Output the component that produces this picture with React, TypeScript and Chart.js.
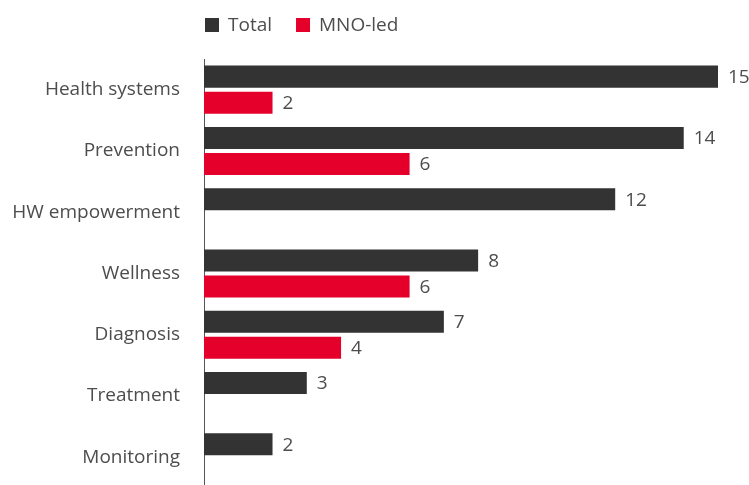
import React, { useEffect, useRef } from "react";
import { Chart, registerables } from "chart.js";

Chart.register(...registerables);

const categories = ["Health systems", "Prevention", "HW empowerment", "Wellness", "Diagnosis", "Treatment", "Monitoring"];
const totalValues = [15, 14, 12, 8, 7, 3, 2];
const mnoValues: (number | null)[] = [2, 6, null, 6, 4, null, null];
const seriesNames = ["Total", "MNO-led"];
const seriesColors = ["#333333", "#E4002B"];

const FONT = "'Open Sans', sans-serif";
const TEXT = "#4d4d4d";

const valueLabels = {
  id: "valueLabels",
  afterDatasetsDraw(chart: any) {
    const ctx = chart.ctx;
    ctx.save();
    ctx.font = `19px ${FONT}`;
    ctx.fillStyle = TEXT;
    ctx.textBaseline = "middle";
    ctx.textAlign = "left";
    chart.data.datasets.forEach((ds: any, i: number) => {
      const meta = chart.getDatasetMeta(i);
      meta.data.forEach((bar: any, j: number) => {
        const v = ds.data[j];
        if (v === null || v === undefined) return;
        ctx.fillText(String(v), bar.x + 10, bar.y + 1);
      });
    });
    ctx.restore();
  },
};

const customLegend = {
  id: "customLegend",
  afterDraw(chart: any) {
    const ctx = chart.ctx;
    ctx.save();
    ctx.font = `19px ${FONT}`;
    ctx.textBaseline = "middle";
    let x = chart.chartArea.left + 1;
    const y = 25;
    chart.data.datasets.forEach((ds: any) => {
      ctx.fillStyle = ds.backgroundColor;
      ctx.fillRect(x, y - 7, 14, 14);
      x += 23;
      ctx.fillStyle = TEXT;
      ctx.fillText(ds.label, x, y + 1);
      x += ctx.measureText(ds.label).width + 24;
    });
    ctx.restore();
  },
};

export default function App() {
  const ref = useRef<HTMLCanvasElement>(null);
  useEffect(() => {
    if (!ref.current) return;
    const chart = new Chart(ref.current, {
      type: "bar",
      data: {
        labels: categories,
        datasets: [
          { label: seriesNames[0], data: totalValues, backgroundColor: seriesColors[0] },
          { label: seriesNames[1], data: mnoValues, backgroundColor: seriesColors[1] },
        ],
      },
      options: {
        indexAxis: "y",
        responsive: false,
        animation: false,
        layout: { padding: { top: 59, right: 31, left: 0, bottom: 0 } },
        datasets: { bar: { categoryPercentage: 0.85, barPercentage: 0.846 } },
        plugins: { legend: { display: false }, tooltip: { enabled: false } },
        scales: {
          x: { display: false, min: 0, max: 15 },
          y: {
            afterFit(scale: any) {
              scale.width = 204;
              scale.paddingTop = 0;
              scale.paddingBottom = 0;
            },
            grid: { display: false, drawTicks: false },
            border: { display: true, color: "#555555", width: 1 },
            ticks: { padding: 24, color: TEXT, font: { family: FONT, size: 19 } },
          },
        },
      },
      plugins: [valueLabels, customLegend],
    } as any);
    return () => chart.destroy();
  }, []);
  return (
    <div style={{ position: "fixed", left: 0, top: 0, width: 749, height: 488 }}>
      <canvas ref={ref} width={749} height={488} />
    </div>
  );
}
